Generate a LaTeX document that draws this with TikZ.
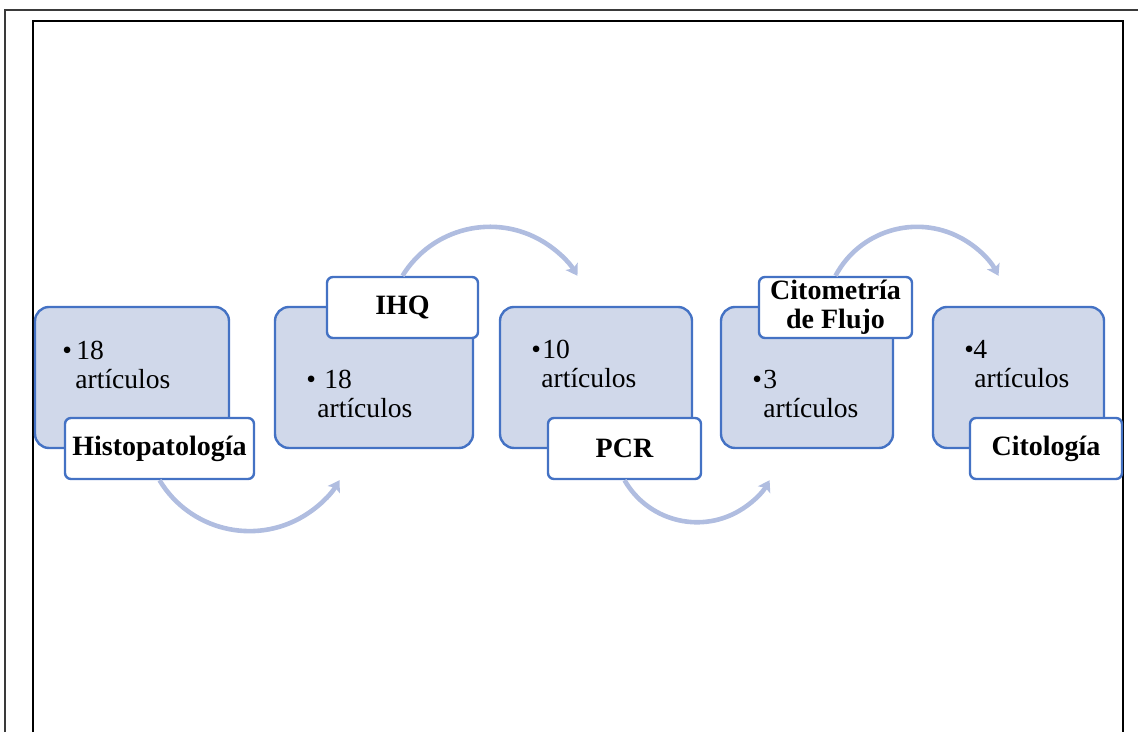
\documentclass[tikz,border=0pt]{standalone}
\usepackage{fontspec}
\setmainfont{Liberation Serif}
\usetikzlibrary{arrows.meta}
\definecolor{boxfill}{HTML}{D0D8EA}
\definecolor{boxline}{HTML}{4472C4}
\definecolor{arrowblue}{HTML}{B0BDE0}
\definecolor{framegray}{HTML}{3A3A3A}

\begin{document}
\begin{tikzpicture}[x=0.5pt,y=0.5pt,
  stagebox/.style={draw=boxline,fill=boxfill,line width=1.2pt,rounded corners=7pt,inner sep=0pt,minimum height=70.5pt},
  stagelabel/.style={draw=boxline,fill=white,line width=1.2pt,rounded corners=3pt,inner sep=0pt,minimum height=30.5pt,align=center,font=\fontsize{14}{14.5}\selectfont\bfseries},
  stagetext/.style={font=\fontsize{13.8}{14.5}\selectfont,align=left,inner sep=0pt,anchor=base west},
  flowarrow/.style={draw=arrowblue,line width=2.3pt,-{Stealth[length=5.5pt,width=7pt,inset=1.2pt]}}]
  \useasboundingbox (0,0) rectangle (1138,732);
  % frames
  \draw[framegray,line width=1pt] (5,0) -- (5,722) -- (1138,722);
  \draw[line width=1.3pt] (33,0) -- (33,711) -- (1123,711) -- (1123,0);
  % blue boxes
  \node[stagebox,minimum width=97pt] (histo) at (132,354.5) {};
  \node[stagebox,minimum width=99pt] (ihq) at (374,354.5) {};
  \node[stagebox,minimum width=96pt] (pcr) at (596,354.5) {};
  \node[stagebox,minimum width=86pt] (cito) at (807,354.5) {};
  \node[stagebox,minimum width=85.5pt] (citol) at (1018.5,354.5) {};
  % counts (base = last line)
  \node[stagetext] (histotext) at (62,343) {\makebox[7pt][l]{\textbullet}18\\\hspace*{6.5pt}artículos};
  \node[stagetext] (ihqtext) at (306,314) {\makebox[5.5pt][l]{\textbullet}\ 18\\\hspace*{5.5pt}artículos};
  \node[stagetext] (pcrtext) at (531,344) {\makebox[5.5pt][l]{\textbullet}10\\\hspace*{5pt}artículos};
  \node[stagetext] (citotext) at (752,314) {\makebox[5.5pt][l]{\textbullet}3\\\hspace*{5.5pt}artículos};
  \node[stagetext] (citoltext) at (964,344) {\makebox[4.5pt][l]{\textbullet}4\\\hspace*{5pt}artículos};
  % labels
  \node[stagelabel,minimum width=94.5pt] (histolabel) at (159.5,283.5) {Histopatología};
  \node[stagelabel,minimum width=75.5pt] (ihqlabel) at (402.5,424.5) {IHQ};
  \node[stagelabel,minimum width=76.5pt] (pcrlabel) at (624.5,283.5) {PCR};
  \node[stagelabel,minimum width=76.5pt] (citolabel) at (835.5,424.5) {Citometría\\de Flujo};
  \node[stagelabel,minimum width=76pt] (citollabel) at (1046,283.5) {Citología};
  % arrows
  \draw[flowarrow] (histolabel.south) arc[start angle=211,end angle=329,radius=105];
  \draw[flowarrow] (ihqlabel.north) arc[start angle=148.5,end angle=31.5,radius=102.6];
  \draw[flowarrow] (pcrlabel.south) arc[start angle=209.8,end angle=330.2,radius=83.6];
  \draw[flowarrow] (citolabel.north) arc[start angle=152,end angle=28,radius=92.3];
\end{tikzpicture}
\end{document}
